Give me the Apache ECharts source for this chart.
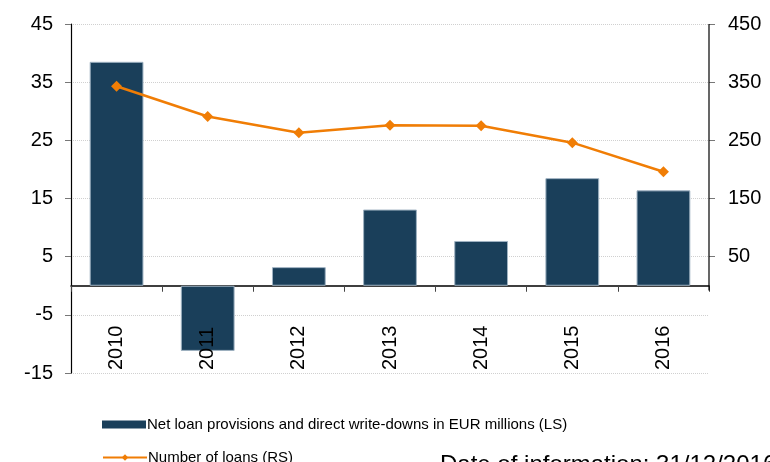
<!DOCTYPE html>
<html>
<head>
<meta charset="utf-8">
<script src="https://cdn.jsdelivr.net/npm/echarts@6/dist/echarts.min.js"></script>
<style>
html,body{margin:0;padding:0;background:#fff;}
#main{width:770px;height:462px;}
</style>
</head>
<body>
<div id="main"></div>
<script>
const categories = ['2010','2011','2012','2013','2014','2015','2016'];
const provisions = [38.5, -11.2, 3.2, 13.1, 7.7, 18.5, 16.4];
const loans = [343, 291, 263, 276, 275, 246, 196];
const rightTicks = [50, 150, 250, 350, 450];
const barName = 'Net loan provisions and direct write-downs in EUR millions (LS)';
const lineName = 'Number of loans (RS)';
const dateText = 'Date of information: 31/12/2016';

const FONT = "'Liberation Sans', Arial, sans-serif";
const chart = echarts.init(document.getElementById('main'), null, {renderer:'canvas'});
const legendBase = {
  orient: 'horizontal',
  left: 97,
  itemWidth: 44, itemHeight: 8,
  textStyle: {fontSize: 15, color: '#000', fontFamily: FONT, padding:[0,0,0,-4]}
};
const option = {
  animation: false,
  backgroundColor: '#fff',
  textStyle: {fontFamily: FONT},
  grid: {left: 71, right: 61, top: 24, bottom: 89, containLabel: false},
  legend: [
    Object.assign({}, legendBase, {top: 412, data: [{name: barName, icon: 'rect', itemStyle:{borderWidth:0}}]}),
    Object.assign({}, legendBase, {top: 445, data: [{name: lineName}]})
  ],
  xAxis: [
    {
      type: 'category', data: categories, position: 'bottom',
      axisLine: {onZero: true, lineStyle: {color: '#000', width: 1.5}},
      axisTick: {show: true, length: 6, lineStyle: {color: '#444'}},
      axisLabel: {show: false},
      splitLine: {show: false}
    },
    {
      type: 'category', data: categories, position: 'bottom', z: 5,
      axisLine: {show: false, onZero: false},
      axisTick: {show: false},
      axisLabel: {show: true, inside: true, rotate: 90, margin: 3, fontSize: 20, color: '#000', fontFamily: FONT},
      splitLine: {show: false}
    }
  ],
  yAxis: [
    {
      type: 'value', min: -15, max: 45, interval: 10, position: 'left',
      axisLine: {show: true, lineStyle: {color: '#000', width: 1.2}},
      axisTick: {show: true, length: 6, lineStyle: {color: '#777'}},
      axisLabel: {fontSize: 20, color: '#000', margin: 18, fontFamily: FONT},
      splitLine: {show: true, lineStyle: {color: '#d0d0d0', type: 'dotted', width: 1}}
    },
    {
      type: 'value', min: -150, max: 450, interval: 100, position: 'right',
      axisLine: {show: false},
      axisTick: {show: true, length: 6, customValues: rightTicks, lineStyle: {color: '#777'}},
      axisLabel: {fontSize: 20, color: '#000', margin: 19, fontFamily: FONT, customValues: rightTicks},
      splitLine: {show: false}
    }
  ],
  series: [
    {
      name: barName, type: 'bar', data: provisions,
      xAxisIndex: 0, yAxisIndex: 0, barWidth: '59%',
      itemStyle: {color: '#1a3f5a', borderColor: '#9fb2c2', borderWidth: 1}
    },
    {
      name: lineName, type: 'line', data: loans,
      xAxisIndex: 0, yAxisIndex: 1,
      symbol: 'diamond', symbolSize: 11,
      lineStyle: {color: '#f07d05', width: 2.5},
      itemStyle: {color: '#f07d05'}
    }
  ]
};
chart.setOption(option);

// right axis line spanning from top to just below zero
const grid = chart.getModel().getComponent('grid').coordinateSystem.getRect();
const xr = grid.x + grid.width;
const yTop = chart.convertToPixel({yAxisIndex: 1}, 450);
const yBot = chart.convertToPixel({yAxisIndex: 1}, -8);
chart.setOption({
  graphic: [
    {type: 'line', shape: {x1: xr, y1: yTop, x2: xr, y2: yBot}, style: {stroke: '#000', lineWidth: 1.2}, z: 10},
    {type: 'text', left: 440, top: 453, style: {text: dateText, font: '24px ' + FONT, fill: '#000'}}
  ]
});
</script>
</body>
</html>
